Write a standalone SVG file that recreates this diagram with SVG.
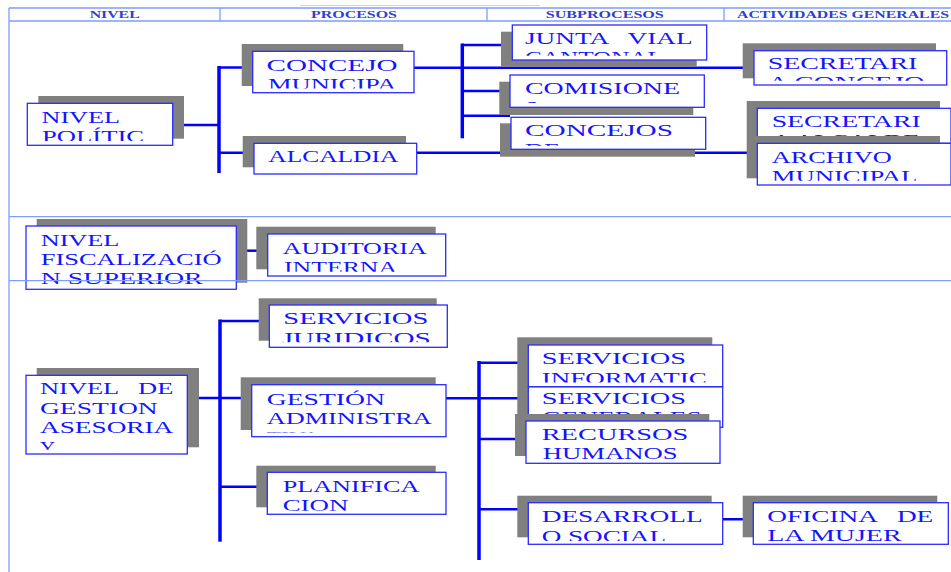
<svg xmlns="http://www.w3.org/2000/svg" width="951" height="572" viewBox="0 0 951 572">
<style>
.sh{fill:#808080}
.bx{fill:#fff;stroke:#2b2bff;stroke-width:1.3}
.t{font-family:"Liberation Serif","Times New Roman",serif;font-size:16.5px;fill:#1414ff;white-space:pre}
.h{font-family:"Liberation Serif","Times New Roman",serif;font-weight:bold;font-size:10.5px;fill:#3040d0}
.c{stroke:#0000ff;stroke-width:2.5;fill:none}
.v{stroke-width:3.5}
.g{stroke:#7f9cff;stroke-width:1.3;fill:none}
</style>
<defs>
<clipPath id="k1"><rect x="27.3" y="103.3" width="145.4" height="37.8"/></clipPath>
<clipPath id="k2"><rect x="252.7" y="51.3" width="161.3" height="37.2"/></clipPath>
<clipPath id="k3"><rect x="254" y="143.3" width="162.7" height="26.5"/></clipPath>
<clipPath id="k4"><rect x="512.3" y="25" width="194.4" height="30.8"/></clipPath>
<clipPath id="k5"><rect x="510" y="75" width="194.3" height="28.1"/></clipPath>
<clipPath id="k6"><rect x="511" y="117.3" width="194.7" height="28.5"/></clipPath>
<clipPath id="k7"><rect x="754" y="50.7" width="192.7" height="30.1"/></clipPath>
<clipPath id="k8"><rect x="757.3" y="108.3" width="193.7" height="30.8"/></clipPath>
<clipPath id="k9"><rect x="757.3" y="143.3" width="193.7" height="37.5"/></clipPath>
<clipPath id="k10"><rect x="26" y="226" width="210.3" height="60"/></clipPath>
<clipPath id="k11"><rect x="267.7" y="234" width="178" height="37.8"/></clipPath>
<clipPath id="k12"><rect x="26" y="375.3" width="161.3" height="74.5"/></clipPath>
<clipPath id="k13"><rect x="269.3" y="305" width="178" height="37.3"/></clipPath>
<clipPath id="k14"><rect x="251.7" y="384.7" width="194.3" height="47.8"/></clipPath>
<clipPath id="k15"><rect x="267.3" y="472.3" width="178.7" height="38.4"/></clipPath>
<clipPath id="k16"><rect x="528.3" y="386.7" width="194.4" height="36.4"/></clipPath>
<clipPath id="k17"><rect x="528.3" y="345" width="194.4" height="37.5"/></clipPath>
<clipPath id="k18"><rect x="526" y="421" width="194" height="38.4"/></clipPath>
<clipPath id="k19"><rect x="528.3" y="502.7" width="194.4" height="38.4"/></clipPath>
<clipPath id="k20"><rect x="753.3" y="502.7" width="195" height="38.4"/></clipPath>
</defs>

<line x1="300" y1="5.5" x2="540" y2="5.5" stroke="#d0d4f4" stroke-width="1.2"/>

<g id="connectors">
<path class="c" d="M172.7 125H219M219 67.5H252.7M219 152.7H254"/>
<path class="c v" d="M219 66V173"/>
<path class="c" d="M414 67.7H754M462 45H512.3M462 91H510M462 115.7H510M416.7 152.7H757.3"/>
<path class="c v" d="M462.3 43.5V138.3"/>
<path class="c" d="M236.3 250.7H267.7"/>
<path class="c" d="M187.3 398H251.7M220 321H269.3M220 486.7H267.3"/>
<path class="c v" d="M220 319.5V541.7"/>
<path class="c" d="M446 398.3H528.3M479 362.7H528.3M479 439H526M479 509.3H528.3M722.7 519.3H753.3"/>
<path class="c v" d="M479 361V560"/>
</g>

<g id="n-politico">
<rect class="sh" x="38.3" y="96" width="145.7" height="42.7"/>
<rect class="bx" x="27.3" y="103.3" width="145.4" height="42"/>
<g clip-path="url(#k1)">
<text class="t" x="41.5" y="123" textLength="78.5" lengthAdjust="spacingAndGlyphs">NIVEL</text>
<text class="t" x="42" y="142.3" textLength="102" lengthAdjust="spacingAndGlyphs">POLÍTIC</text>
</g>
</g>

<g id="n-concejo">
<rect class="sh" x="241.7" y="44" width="161.6" height="42"/>
<rect class="bx" x="252.7" y="51.3" width="161.3" height="41.4"/>
<g clip-path="url(#k2)">
<text class="t" x="266.5" y="70.7" textLength="131" lengthAdjust="spacingAndGlyphs">CONCEJO</text>
<text class="t" x="268" y="90" textLength="128.5" lengthAdjust="spacingAndGlyphs">MUNICIPA</text>
</g>
</g>

<g id="n-alcaldia">
<rect class="sh" x="242.7" y="136" width="163.3" height="31.3"/>
<rect class="bx" x="254" y="143.3" width="162.7" height="30.7"/>
<g clip-path="url(#k3)">
<text class="t" x="268.3" y="161.7" textLength="130" lengthAdjust="spacingAndGlyphs">ALCALDIA</text>
</g>
</g>

<g id="n-junta">
<rect class="sh" x="501" y="31.7" width="195.7" height="35"/>
<rect class="bx" x="512.3" y="25" width="194.4" height="35"/>
<g clip-path="url(#k4)">
<text class="t" x="525" y="44" textLength="167.7" lengthAdjust="spacingAndGlyphs">JUNTA   VIAL</text>
<text class="t" x="525" y="62.7" textLength="138" lengthAdjust="spacingAndGlyphs">CANTONAL</text>
</g>
</g>

<g id="n-comisiones">
<rect class="sh" x="499.3" y="81.7" width="194" height="33.3"/>
<rect class="bx" x="510" y="75" width="194.3" height="32.3"/>
<g clip-path="url(#k5)">
<text class="t" x="525" y="94" textLength="155" lengthAdjust="spacingAndGlyphs">COMISIONE</text>
<text class="t" x="525" y="112.5" textLength="13" lengthAdjust="spacingAndGlyphs">S</text>
</g>
</g>

<g id="n-concejos">
<rect class="sh" x="500" y="123.3" width="195" height="33.4"/>
<rect class="bx" x="511" y="117.3" width="194.7" height="32"/>
<g clip-path="url(#k6)">
<text class="t" x="525" y="135.7" textLength="148" lengthAdjust="spacingAndGlyphs">CONCEJOS</text>
<text class="t" x="525" y="154.5" textLength="35" lengthAdjust="spacingAndGlyphs">DE</text>
</g>
</g>

<g id="n-sec-concejo">
<rect class="sh" x="742.7" y="43.3" width="193.3" height="35"/>
<rect class="bx" x="754" y="50.7" width="192.7" height="34.3"/>
<g clip-path="url(#k7)">
<text class="t" x="767.7" y="69.3" textLength="149.7" lengthAdjust="spacingAndGlyphs">SECRETARI</text>
<text class="t" x="767.7" y="88.3" textLength="157" lengthAdjust="spacingAndGlyphs">A CONCEJO</text>
</g>
</g>

<g id="n-sec-alcalde">
<rect class="sh" x="746.7" y="101" width="193.3" height="35"/>
<rect class="bx" x="757.3" y="108.3" width="193.7" height="35"/>
<g clip-path="url(#k8)">
<text class="t" x="771.7" y="127.3" textLength="149" lengthAdjust="spacingAndGlyphs">SECRETARI</text>
<text class="t" x="771.7" y="146.3" textLength="148" lengthAdjust="spacingAndGlyphs">A ALCALDE</text>
</g>
</g>

<g id="n-archivo">
<rect class="sh" x="746.7" y="136" width="193.3" height="42.3"/>
<rect class="bx" x="757.3" y="143.3" width="193.7" height="41.7"/>
<g clip-path="url(#k9)">
<text class="t" x="771.7" y="162.7" textLength="120" lengthAdjust="spacingAndGlyphs">ARCHIVO</text>
<text class="t" x="771.7" y="181.7" textLength="145.7" lengthAdjust="spacingAndGlyphs">MUNICIPAL</text>
</g>
</g>

<g id="n-fiscalizacion">
<rect class="sh" x="36.7" y="219" width="210.6" height="63.7"/>
<rect class="bx" x="26" y="226" width="210.3" height="63.3"/>
<g clip-path="url(#k10)">
<text class="t" x="40.7" y="246" textLength="78.7" lengthAdjust="spacingAndGlyphs">NIVEL</text>
<text class="t" x="40.7" y="265" textLength="181" lengthAdjust="spacingAndGlyphs">FISCALIZACIÓ</text>
<text class="t" x="40.7" y="284" textLength="162" lengthAdjust="spacingAndGlyphs">N SUPERIOR</text>
</g>
</g>

<g id="n-auditoria">
<rect class="sh" x="256.3" y="226.7" width="179.4" height="42.6"/>
<rect class="bx" x="267.7" y="234" width="178" height="42"/>
<g clip-path="url(#k11)">
<text class="t" x="282.7" y="254" textLength="144" lengthAdjust="spacingAndGlyphs">AUDITORIA</text>
<text class="t" x="284" y="273" textLength="113" lengthAdjust="spacingAndGlyphs">INTERNA</text>
</g>
</g>

<g id="n-gestion-asesoria">
<rect class="sh" x="36.7" y="368" width="162.3" height="79.3"/>
<rect class="bx" x="26" y="375.3" width="161.3" height="78.7"/>
<g clip-path="url(#k12)">
<text class="t" x="40" y="394.3" textLength="133.3" lengthAdjust="spacingAndGlyphs">NIVEL   DE</text>
<text class="t" x="40" y="413.6" textLength="117.7" lengthAdjust="spacingAndGlyphs">GESTION</text>
<text class="t" x="40" y="433.3" textLength="133.3" lengthAdjust="spacingAndGlyphs">ASESORIA</text>
<text class="t" x="40" y="452.8" textLength="15" lengthAdjust="spacingAndGlyphs">Y</text>
</g>
</g>

<g id="n-juridicos">
<rect class="sh" x="258.7" y="298.3" width="178" height="42.4"/>
<rect class="bx" x="269.3" y="305" width="178" height="42.3"/>
<g clip-path="url(#k13)">
<text class="t" x="283.3" y="324" textLength="145" lengthAdjust="spacingAndGlyphs">SERVICIOS</text>
<text class="t" x="281.7" y="343.5" textLength="149" lengthAdjust="spacingAndGlyphs">JURIDICOS</text>
</g>
</g>

<g id="n-gestion-adm">
<rect class="sh" x="240.7" y="377.3" width="195" height="52.7"/>
<rect class="bx" x="251.7" y="384.7" width="194.3" height="52"/>
<g clip-path="url(#k14)">
<text class="t" x="266.7" y="405" textLength="118.3" lengthAdjust="spacingAndGlyphs">GESTIÓN</text>
<text class="t" x="266.7" y="423.7" textLength="165" lengthAdjust="spacingAndGlyphs">ADMINISTRA</text>
<text class="t" x="266.7" y="442.7" textLength="53" lengthAdjust="spacingAndGlyphs">TIVA</text>
</g>
</g>

<g id="n-planificacion">
<rect class="sh" x="256.3" y="465.7" width="179.4" height="41.6"/>
<rect class="bx" x="267.3" y="472.3" width="178.7" height="42"/>
<g clip-path="url(#k15)">
<text class="t" x="282.7" y="492" textLength="136.7" lengthAdjust="spacingAndGlyphs">PLANIFICA</text>
<text class="t" x="282.7" y="511" textLength="65.7" lengthAdjust="spacingAndGlyphs">CION</text>
</g>
</g>

<g id="n-serv-generales">
<rect class="sh" x="517.3" y="379.7" width="195" height="40.6"/>
<rect class="bx" x="528.3" y="386.7" width="194.4" height="40.6"/>
<g clip-path="url(#k16)">
<text class="t" x="541.7" y="404" textLength="144.3" lengthAdjust="spacingAndGlyphs">SERVICIOS</text>
<text class="t" x="541.7" y="423.3" textLength="160" lengthAdjust="spacingAndGlyphs">GENERALES</text>
</g>
</g>

<g id="n-serv-informaticos">
<rect class="sh" x="517.3" y="337.3" width="195" height="42.7"/>
<rect class="bx" x="528.3" y="345" width="194.4" height="41.7"/>
<g clip-path="url(#k17)">
<text class="t" x="541.7" y="364.3" textLength="144.3" lengthAdjust="spacingAndGlyphs">SERVICIOS</text>
<text class="t" x="541.7" y="383.6" textLength="165" lengthAdjust="spacingAndGlyphs">INFORMATIC</text>
</g>
</g>

<g id="n-rrhh">
<rect class="sh" x="515" y="414" width="194.3" height="42"/>
<rect class="bx" x="526" y="421" width="194" height="42.3"/>
<g clip-path="url(#k18)">
<text class="t" x="541.7" y="440" textLength="146.7" lengthAdjust="spacingAndGlyphs">RECURSOS</text>
<text class="t" x="542.7" y="459" textLength="135" lengthAdjust="spacingAndGlyphs">HUMANOS</text>
</g>
</g>

<g id="n-desarrollo">
<rect class="sh" x="517.3" y="495.7" width="194.4" height="41.6"/>
<rect class="bx" x="528.3" y="502.7" width="194.4" height="41.6"/>
<g clip-path="url(#k19)">
<text class="t" x="541.7" y="522.3" textLength="161" lengthAdjust="spacingAndGlyphs">DESARROLL</text>
<text class="t" x="541.7" y="541.5" textLength="124.3" lengthAdjust="spacingAndGlyphs">O SOCIAL</text>
</g>
</g>

<g id="n-mujer">
<rect class="sh" x="742.7" y="495.7" width="194.6" height="41.6"/>
<rect class="bx" x="753.3" y="502.7" width="195" height="41.6"/>
<g clip-path="url(#k20)">
<text class="t" x="767.3" y="522.3" textLength="166" lengthAdjust="spacingAndGlyphs">OFICINA   DE</text>
<text class="t" x="767.3" y="541.3" textLength="134.3" lengthAdjust="spacingAndGlyphs">LA MUJER</text>
</g>
</g>

<g id="table">
<path class="g" d="M9 8H951M9 21H951M9 8V572M220 8V21M487 8V21M724 8V21M9 216.7H951M9 280.7H951"/>
<text class="h" x="89.7" y="18.3" textLength="50" lengthAdjust="spacingAndGlyphs">NIVEL</text>
<text class="h" x="311" y="18.3" textLength="86" lengthAdjust="spacingAndGlyphs">PROCESOS</text>
<text class="h" x="545.8" y="18.3" textLength="118" lengthAdjust="spacingAndGlyphs">SUBPROCESOS</text>
<text class="h" x="737" y="18.3" textLength="212" lengthAdjust="spacingAndGlyphs">ACTIVIDADES GENERALES</text>
</g>
</svg>
